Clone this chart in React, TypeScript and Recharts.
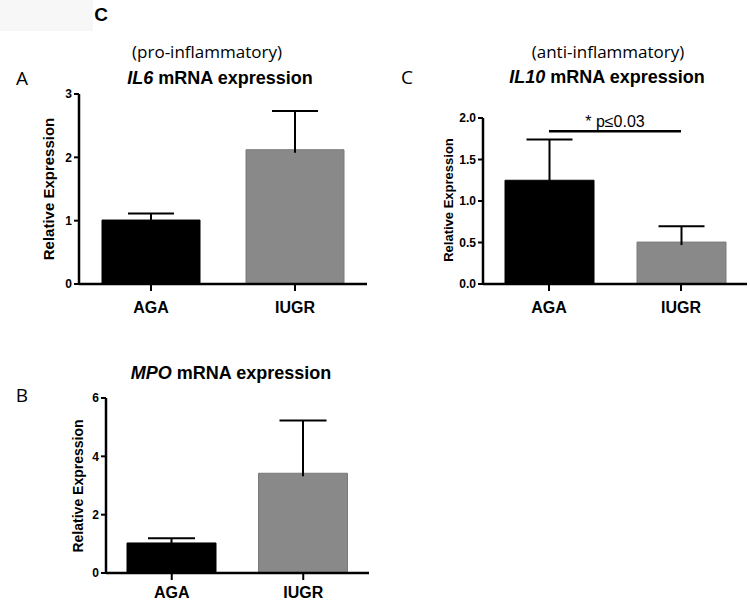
import React from 'react';
import { BarChart, Bar, XAxis, YAxis, Cell, ReferenceLine, Label } from 'recharts';

// ---- data ----
const groups = ['AGA', 'IUGR'];
const il6Mean = [1.01, 2.12];
const il6Sem = [0.105, 0.61];
const il10Mean = [1.25, 0.505];
const il10Sem = [0.49, 0.19];
const mpoMean = [1.03, 3.42];
const mpoSem = [0.16, 1.81];
const il6Ticks = [0, 1, 2, 3];
const il10Ticks = [0, 0.5, 1, 1.5, 2];
const mpoTicks = [0, 2, 4, 6];
const sigY = 1.84;
const sigText = '* p\u22640.03';
const barColors = ['#000000', '#898989'];
const barStrokes = ['#000000', '#7a7a7a'];

const build = (mean: number[], sem: number[]) =>
  groups.map((g, i) => ({ name: g, mean: mean[i], sem: sem[i] }));

const il6Data = build(il6Mean, il6Sem);
const il10Data = build(il10Mean, il10Sem);
const mpoData = build(mpoMean, mpoSem);

const FONT = '"Liberation Sans", Arial, sans-serif';
const SOFT = '"Open Sans", "Noto Sans", sans-serif';

const errShape = (capW: number) => (props: any) => {
  const { x, y, width, height } = props;
  if (x == null || y == null) return <g />;
  const cx = x + width / 2;
  return (
    <g>
      <line x1={cx} x2={cx} y1={y + height + 3} y2={y} stroke="#000" strokeWidth={2} />
      <line x1={cx - capW / 2} x2={cx + capW / 2} y1={y} y2={y} stroke="#000" strokeWidth={2} />
    </g>
  );
};

type PanelProps = {
  data: any[];
  ticks: number[];
  fmt: (v: number) => string;
  plot: { left: number; top: number; w: number; h: number };
  barSize: number;
  capW: number;
  xMargin?: number;
  children?: React.ReactNode;
};

function Panel({ data, ticks, fmt, plot, barSize, capW, xMargin = 11, children }: PanelProps) {
  const YW = 40, XH = 40, TOP = 20, RIGHT = 4;
  return (
    <div style={{ position: 'absolute', left: plot.left - YW, top: plot.top - TOP }}>
      <BarChart
        width={YW + plot.w + RIGHT}
        height={TOP + plot.h + XH}
        data={data}
        margin={{ top: TOP, right: RIGHT, left: 0, bottom: 0 }}
        barSize={barSize}
      >
        <XAxis
          dataKey="name"
          height={XH}
          interval={0}
          axisLine={{ stroke: '#000', strokeWidth: 2.5 }}
          tickLine={{ stroke: '#000', strokeWidth: 2 }}
          tickSize={7}
          tickMargin={xMargin}
          tick={{ fill: '#000', fontSize: 16, fontWeight: 'bold', fontFamily: FONT }}
        />
        <YAxis
          type="number"
          width={YW}
          domain={[ticks[0], ticks[ticks.length - 1]]}
          ticks={ticks}
          interval={0}
          tickFormatter={fmt}
          axisLine={{ stroke: '#000', strokeWidth: 2.5 }}
          tickLine={{ stroke: '#000', strokeWidth: 2 }}
          tickSize={5}
          tickMargin={2}
          tick={{ fill: '#000', fontSize: 12, fontWeight: 'bold', fontFamily: FONT }}
        />
        <Bar dataKey="mean" stackId="s" isAnimationActive={false}>
          {data.map((d, i) => (
            <Cell key={d.name} fill={barColors[i]} stroke={barStrokes[i]} strokeWidth={1} />
          ))}
        </Bar>
        <Bar dataKey="sem" stackId="s" isAnimationActive={false} shape={errShape(capW)} />
        {children}
      </BarChart>
    </div>
  );
}

function T({ x, y, size, family, weight, children, rotate, color }: any) {
  return (
    <div
      style={{
        position: 'absolute',
        left: x,
        top: y,
        transform: `translate(-50%, -50%)${rotate ? ' rotate(-90deg)' : ''}`,
        whiteSpace: 'nowrap',
        fontSize: size,
        fontFamily: family,
        fontWeight: weight || 'normal',
        color: color || '#000',
      }}
    >
      {children}
    </div>
  );
}

export default function App() {
  return (
    <div style={{ position: 'absolute', left: 0, top: 0, width: 750, height: 603, background: '#fff', overflow: 'hidden' }}>
      <div style={{ position: 'absolute', left: 0, top: 0, width: 93, height: 31, background: '#f7f7f7' }} />
      <T x={101} y={15} size={19} family={FONT} weight="bold">C</T>

      <T x={207} y={51} size={17} family={SOFT}>(pro-inflammatory)</T>
      <T x={608} y={51} size={17} family={SOFT}>(anti-inflammatory)</T>

      <T x={22} y={78} size={19} family={SOFT}>A</T>
      <T x={407} y={77} size={19} family={SOFT}>C</T>
      <T x={22} y={395} size={19} family={SOFT}>B</T>

      <T x={220} y={78} size={18} family={FONT} weight="bold">
        <span style={{ fontStyle: 'italic' }}>IL6</span> mRNA expression
      </T>
      <T x={607} y={77} size={18} family={FONT} weight="bold">
        <span style={{ fontStyle: 'italic' }}>IL10</span> mRNA expression
      </T>
      <T x={231} y={373} size={18} family={FONT} weight="bold">
        <span style={{ fontStyle: 'italic' }}>MPO</span> mRNA expression
      </T>

      <T x={48} y={189} size={15} family={FONT} weight="bold" rotate>Relative Expression</T>
      <T x={448} y={200} size={13} family={FONT} weight="bold" rotate>Relative Expression</T>
      <T x={78} y={486} size={14} family={FONT} weight="bold" rotate>Relative Expression</T>

      <Panel
        data={il6Data}
        ticks={il6Ticks}
        fmt={(v) => String(v)}
        plot={{ left: 79, top: 94, w: 288, h: 190 }}
        barSize={98}
        capW={46}
      />
      <Panel
        data={il10Data}
        ticks={il10Ticks}
        fmt={(v) => v.toFixed(1)}
        plot={{ left: 483, top: 118, w: 264, h: 166 }}
        barSize={89}
        capW={46}
      >
        <ReferenceLine
          segment={[{ x: 'AGA', y: sigY }, { x: 'IUGR', y: sigY }]}
          stroke="#000"
          strokeWidth={2.5}
        >
          <Label value={sigText} position="top" offset={4} fill="#000" fontSize={16} fontFamily={FONT} />
        </ReferenceLine>
      </Panel>
      <Panel
        data={mpoData}
        ticks={mpoTicks}
        fmt={(v) => String(v)}
        plot={{ left: 106, top: 398, w: 263, h: 175 }}
        barSize={89}
        capW={47}
        xMargin={7}
      />
    </div>
  );
}
